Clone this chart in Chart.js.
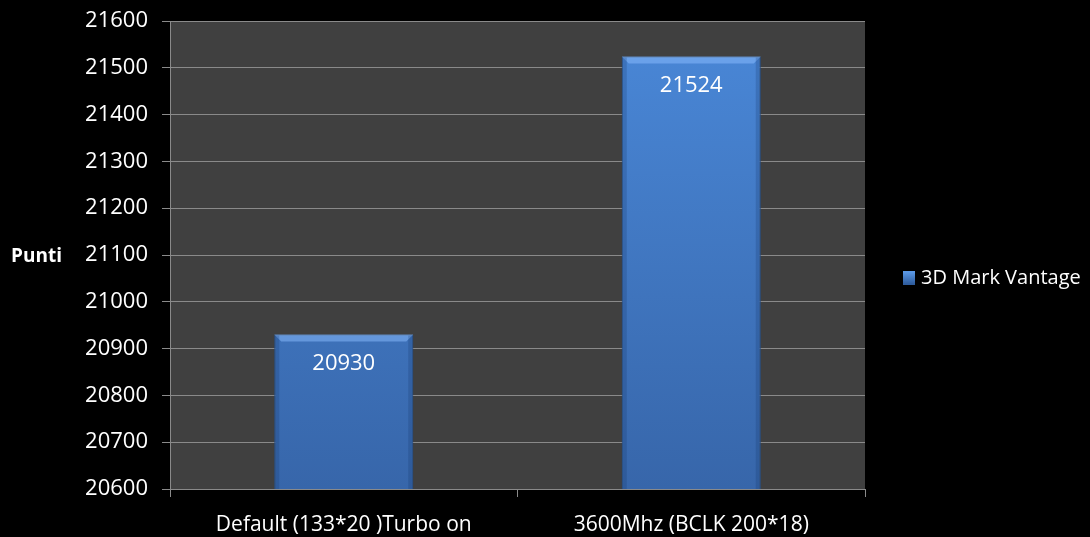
<!DOCTYPE html>
<html><head><meta charset="utf-8">
<script src="https://cdn.jsdelivr.net/npm/chart.js@4/dist/chart.umd.min.js"></script>
<style>html,body{margin:0;padding:0;background:#000;}#wrap{width:1090px;height:537px;}</style>
</head><body><div id="wrap"><canvas id="c" width="1090" height="537"></canvas></div>
<script>
const categories = ["Default (133*20 )Turbo on", "3600Mhz (BCLK 200*18)"];
const seriesName = "3D Mark Vantage";
const seriesValues = [20930, 21524];
const yAxisTitle = "Punti";
const yMin = 20600, yMax = 21600, yStep = 100;

const FONT = "'Open Sans', 'Noto Sans', sans-serif";

function barGradient(ctx) {
  const chart = ctx.chart;
  const area = chart.chartArea;
  if (!area) return '#3f78c4';
  const g = chart.ctx.createLinearGradient(0, area.top, 0, area.bottom);
  g.addColorStop(0, '#4a88d8');
  g.addColorStop(1, '#3766aa');
  return g;
}

const decor = {
  id: 'decor',
  beforeDraw(chart) {
    const {ctx, chartArea: a} = chart;
    ctx.save();
    ctx.fillStyle = '#404040';
    ctx.fillRect(a.left, a.top, a.right - a.left, a.bottom - a.top);
    ctx.restore();
  },
  afterDatasetsDraw(chart) {
    const {ctx, chartArea: a} = chart;
    const meta = chart.getDatasetMeta(0);
    ctx.save();
    meta.data.forEach((bar, i) => {
      const x0 = bar.x - bar.width / 2, x1 = bar.x + bar.width / 2, y0 = bar.y;
      const yb = Math.min(bar.base, a.bottom);
      ctx.fillStyle = 'rgba(140,190,255,0.5)';
      ctx.beginPath();
      ctx.moveTo(x0, y0); ctx.lineTo(x1, y0); ctx.lineTo(x1 - 7, y0 + 7); ctx.lineTo(x0 + 7, y0 + 7); ctx.closePath();
      ctx.fill();
      ctx.fillStyle = 'rgba(20,50,100,0.22)';
      ctx.fillRect(x0, y0 + 1, 5, yb - y0 - 1);
      ctx.fillRect(x1 - 5, y0 + 1, 5, yb - y0 - 1);
      ctx.fillStyle = '#ffffff';
      ctx.font = '22px ' + FONT;
      ctx.textAlign = 'center';
      ctx.textBaseline = 'middle';
      ctx.fillText(String(seriesValues[i]), bar.x, y0 + 29);
    });
    ctx.restore();
  },
  afterDraw(chart) {
    const {ctx, chartArea: a} = chart;
    ctx.save();
    ctx.fillStyle = '#ffffff';
    ctx.font = 'bold 19px ' + FONT;
    ctx.textAlign = 'left';
    ctx.textBaseline = 'middle';
    ctx.fillText(yAxisTitle, 11, (a.top + a.bottom) / 2 + 2);
    const lx = 903, ly = 278;
    const g = ctx.createLinearGradient(0, ly - 6, 0, ly + 6);
    g.addColorStop(0, '#5a98e6'); g.addColorStop(1, '#2f5d9e');
    ctx.fillStyle = g;
    ctx.fillRect(lx, ly - 7, 12, 14);
    ctx.fillStyle = '#ffffff';
    ctx.font = '20px ' + FONT;
    ctx.fillText(chart.data.datasets[0].label, lx + 18, ly);
    ctx.restore();
  }
};

new Chart(document.getElementById('c'), {
  type: 'bar',
  data: {
    labels: categories,
    datasets: [{
      label: seriesName,
      data: seriesValues,
      backgroundColor: barGradient,
      borderColor: '#2e5c98',
      borderWidth: 1,
      categoryPercentage: 1.0,
      barPercentage: 0.4
    }]
  },
  options: {
    responsive: false,
    animation: false,
    layout: { padding: { top: 21, right: 225, left: 0, bottom: 0 } },
    plugins: { legend: { display: false }, tooltip: { enabled: false } },
    scales: {
      x: {
        afterFit(s) { s.height = 48; s.paddingLeft = 0; s.paddingRight = 0; },
        grid: { offset: true, drawOnChartArea: false, drawTicks: true, tickLength: 8, color: '#8a8a8a' },
        border: { color: '#8a8a8a', width: 1 },
        ticks: { color: '#ffffff', font: { family: FONT, size: 21 }, padding: 15, maxRotation: 0 }
      },
      y: {
        min: yMin, max: yMax,
        afterFit(s) { s.width = 170; s.paddingTop = 0; s.paddingBottom = 0; },
        grid: { color: '#8a8a8a', tickLength: 8, lineWidth: 1 },
        border: { color: '#8a8a8a', width: 1 },
        ticks: { stepSize: yStep, color: '#ffffff', font: { family: FONT, size: 22 }, padding: 14,
                 callback: (v) => String(v) }
      }
    }
  },
  plugins: [decor]
});
</script></body></html>
